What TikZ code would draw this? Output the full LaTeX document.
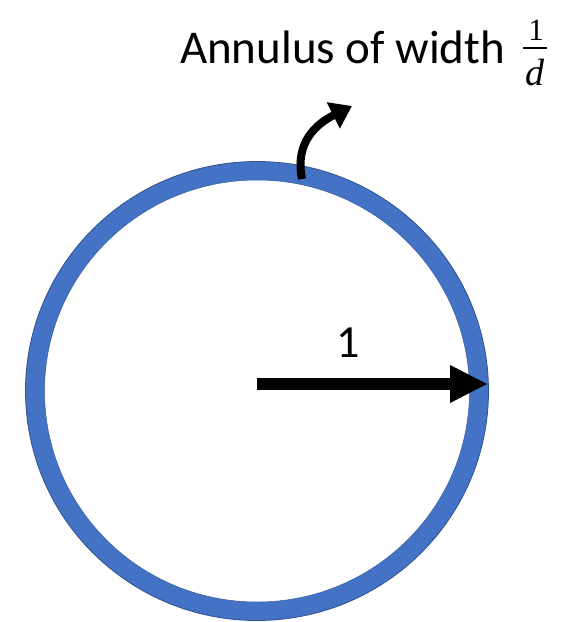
\documentclass[tikz,border=0pt]{standalone}
\usepackage{fontspec}
\setmainfont{Carlito}
\newfontfamily\serifit{Liberation Serif}
\usetikzlibrary{arrows.meta}
\definecolor{ringblue}{HTML}{4472C4}
\definecolor{ringedge}{HTML}{2F528F}
\tikzset{
  lbl/.style={inner sep=0pt, outer sep=0pt, font=\fontsize{47}{50}\selectfont},
  fatarrow/.style={line width=12pt, -{Triangle[length=38pt,width=35pt]}},
  bentarrow/.style={line width=8pt, -{Triangle[length=21pt,width=28pt]}},
}
\begin{document}
\begin{tikzpicture}[x=1pt,y=-1pt]
\useasboundingbox (0,0) rectangle (561,622);
% ring
\fill[ringblue, even odd rule] (257,391) ellipse [x radius=231.5, y radius=229.5]
      (257,391) ellipse [x radius=212.5, y radius=211];
\draw[ringedge, line width=0.8pt] (257,391) ellipse [x radius=231.5, y radius=229.5];
\draw[ringedge!60!ringblue, line width=0.5pt] (257,391) ellipse [x radius=212.5, y radius=211];
% radius arrow
\coordinate (c) at (257,384);
\coordinate (r) at (488,384);
\draw[fatarrow] (c) -- (r);
\node[lbl, font=\fontsize{46}{48}\selectfont, anchor=base] (one) at (348,357) {1};
% title
\node[lbl, anchor=base west] (title) at (180,63) {Annulus of width};
\node[inner sep=0pt, font=\serifit\fontsize{31}{33}\selectfont, anchor=base] (num) at (536,40) {1};
\draw[line width=2.5pt] (523,48) -- (547,48);
\node[inner sep=0pt, font=\serifit\itshape\fontsize{38}{40}\selectfont, anchor=base] (den) at (535,85) {d};
% bent arrow
\coordinate (s) at (302,179);
\coordinate (t) at (352,106);
\draw[bentarrow] (s) .. controls (296,150) and (308,128) .. (t);
\end{tikzpicture}
\end{document}
